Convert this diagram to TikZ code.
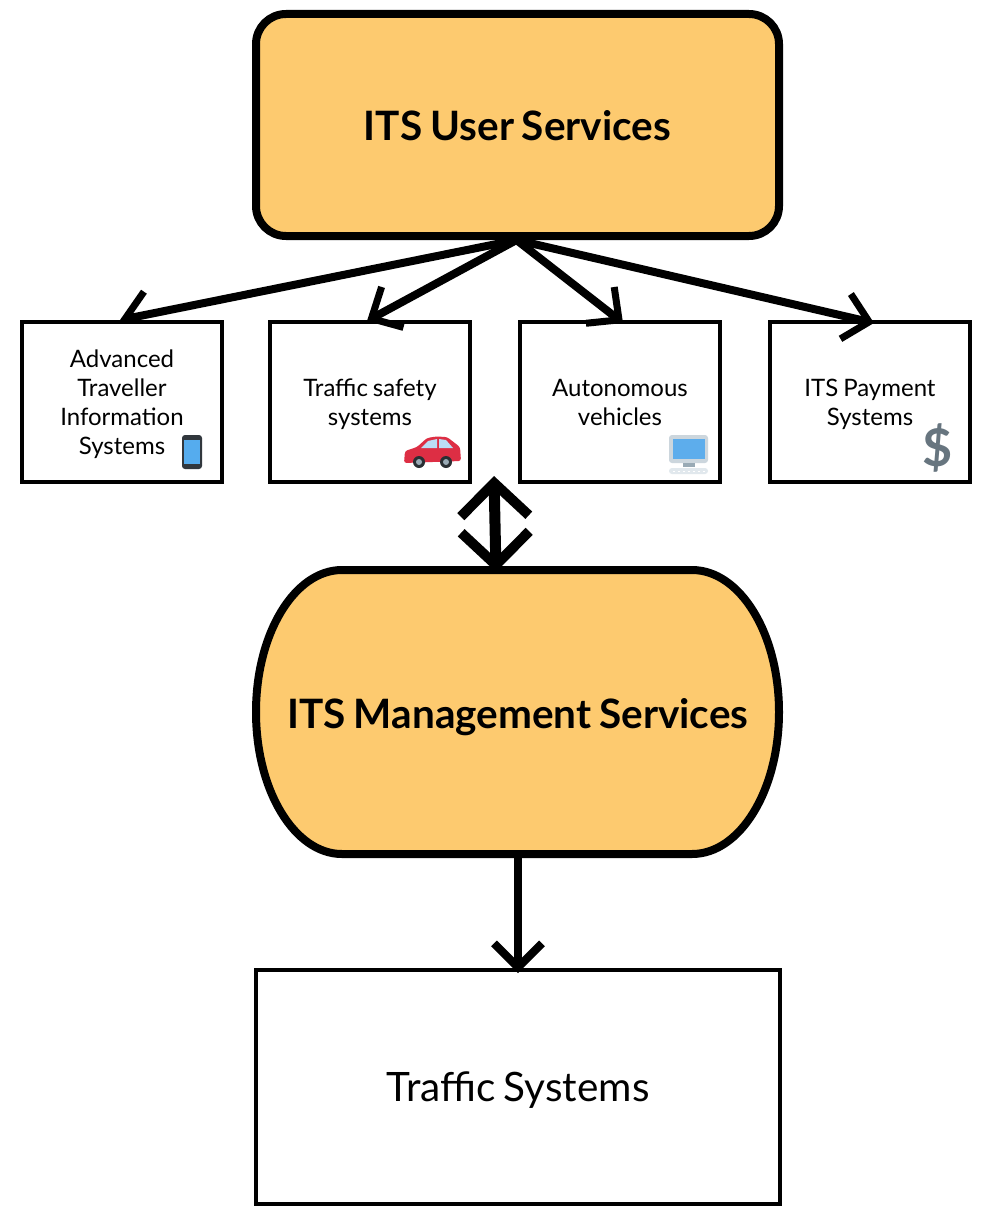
\documentclass[tikz,border=0pt]{standalone}
\usepackage{fontspec}
\setmainfont[WordSpace=0.8]{Lato}
\usetikzlibrary{arrows.meta,backgrounds}
\definecolor{panelfill}{HTML}{FDCA6F}
\definecolor{phonedark}{HTML}{31373D}
\definecolor{phoneblue}{HTML}{55ACEE}
\definecolor{carred}{HTML}{DD2E44}
\definecolor{carglass}{HTML}{BBDDF5}
\definecolor{cardark}{HTML}{292F33}
\definecolor{cargrey}{HTML}{99AAB5}
\definecolor{pclight}{HTML}{CCD6DD}
\definecolor{pcblue}{HTML}{5DADEC}
\definecolor{pckeys}{HTML}{E1E8ED}
\definecolor{dollargrey}{HTML}{67757F}

\begin{document}
\begin{tikzpicture}[
      x=1pt,y=-1pt,
      pointer/.style={line width=8pt, -{Straight Barb[length=24pt,width=46pt,line width=7pt]},draw=black},
      spointer/.style={line width=8pt, -{Straight Barb[length=24pt,width=48pt,line width=8pt]},draw=black},
      dpointer/.style={line width=11pt, {Straight Barb[length=33pt,width=68pt,line width=10pt]}-{Straight Barb[length=33pt,width=68pt,line width=10pt]},draw=black},
      panel/.style={line width=8pt,draw=black,fill=panelfill},
      title/.style={font=\fontsize{40.5}{48}\selectfont\bfseries,inner sep=0pt},
      box/.style={rectangle,line width=4pt,draw=black,fill=white,inner sep=0pt,align=center},
      service/.style={box,minimum width=200pt,minimum height=160pt,text depth=-5pt,font=\fontsize{24}{29}\selectfont}
      ]
      \useasboundingbox (0,0) rectangle (994,1228);

      \node[panel,title,rectangle,rounded corners=30pt,minimum width=523pt,minimum height=222pt,text height=32pt] (user) at (517.5,125) {ITS User Services};
      \node[title] (mgmt) at (518,717) {ITS Management Services};
      \node[service] (atis) at (122,402) {Advanced\\Traveller\\Information\\Systems};
      \node[service] (safety) at (370,402) {Traffic safety\\systems};
      \node[service] (auto) at (620,402) {Autonomous\\vehicles};
      \node[service] (pay) at (870,402) {ITS Payment\\Systems};
      \node[box,minimum width=524pt,minimum height=234pt,text height=36pt,font=\fontsize{40.5}{48}\selectfont] (traffic) at (518,1087) {Traffic Systems};
      \coordinate (mgmttop) at (496,572);
      \coordinate (gap) at (494,476);
      \coordinate (mgmtbottom) at (518,854);

      \begin{pgfonlayer}{background}
        \draw[panel] (342,570) -- (692,570) arc[start angle=-90,end angle=90,x radius=87,y radius=142] -- (342,854) arc[start angle=90,end angle=270,x radius=86,y radius=142] -- cycle;
        \path ([xshift=-1pt]user.south) edge [pointer] ([xshift=-2pt]atis.north);
      \end{pgfonlayer}

      \path ([xshift=-1pt]user.south) edge [pointer] ([xshift=-3pt,yshift=-1pt]safety.north);
      \path ([xshift=-1pt]user.south) edge [pointer] ([xshift=3pt,yshift=-3pt]auto.north);
      \path ([xshift=-1pt]user.south) edge [pointer] ([xshift=4pt,yshift=-3pt]pay.north);
      \path (gap) edge [dpointer] (mgmttop);
      \path (mgmtbottom) edge [spointer] ([yshift=-5pt]traffic.north);

      % phone
      \fill[phonedark,rounded corners=3pt] (182,435) rectangle (202,469);
      \fill[phoneblue] (184,440) rectangle (200,464);
      % car
      \fill[carred,rounded corners=2.5pt] (404,463) -- (405,451) -- (417,447) -- (427,438) -- (436,436.5) -- (447,437) -- (460,447) -- (461,461) -- cycle;
      \fill[carglass] (421,448) -- (428,441) -- (437,439) -- (437,448) -- cycle;
      \fill[carglass] (439,439) -- (446,440) -- (453,448) -- (439,448) -- cycle;
      \foreach \wheelx in {419,446} {
        \fill[cardark] (\wheelx,462) circle[radius=6];
        \fill[cargrey] (\wheelx,462) circle[radius=3];
      }
      % computer
      \fill[pclight,rounded corners=3pt] (669,435) rectangle (708,463);
      \fill[pcblue] (673,439) rectangle (705,459);
      \fill[cargrey] (683,463) rectangle (695,467);
      \fill[pckeys,rounded corners=3pt] (669,468) rectangle (708,474);
      \foreach \keyx in {673,678,...,705} {
        \fill[white] (\keyx,470.5) rectangle ++(2,1.5);
      }
      % dollar
      \node[text=dollargrey,font=\fontsize{52}{60}\selectfont\bfseries,inner sep=0pt] (dollar) at (937.5,448) {\$};
    \end{tikzpicture}
\end{document}
